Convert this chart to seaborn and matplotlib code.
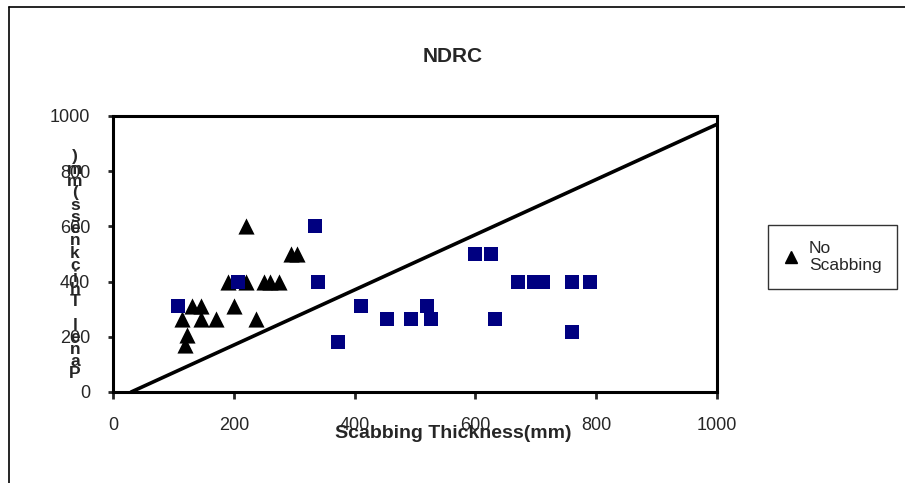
import matplotlib
matplotlib.use("Agg")
import matplotlib.pyplot as plt
import seaborn as sns
import pandas as pd
from matplotlib.lines import Line2D

# Data
no_scab_x = [220, 295, 305, 190, 220, 250, 260, 275, 130, 145, 200, 115, 145, 170, 237, 123, 120]
no_scab_y = [600, 500, 500, 400, 400, 400, 400, 400, 310, 310, 310, 265, 265, 265, 265, 208, 172]

scab_x = [335, 340, 108, 207, 372, 600, 625, 670, 697, 712, 760, 790, 410, 453, 493, 520, 527, 632, 760]
scab_y = [600, 400, 310, 400, 182, 500, 500, 400, 400, 400, 400, 400, 310, 265, 265, 310, 265, 265, 218]

line_x = [30, 1000]
line_y = [0, 970]

ticks = [0, 200, 400, 600, 800, 1000]

W, H = 905, 483

sns.set_style("white")
plt.rcParams['font.family'] = ['Liberation Sans', 'DejaVu Sans']

fig = plt.figure(figsize=(W / 100, H / 100), dpi=100)
ax = fig.add_axes([113 / W, 1 - 392 / H, (717 - 113) / W, (392 - 116) / H])

no_df = pd.DataFrame({"x": no_scab_x, "y": no_scab_y})
sc_df = pd.DataFrame({"x": scab_x, "y": scab_y})
ln_df = pd.DataFrame({"x": line_x, "y": line_y})

sns.lineplot(data=ln_df, x="x", y="y", ax=ax, color="black", linewidth=2.6, zorder=1)
sns.scatterplot(data=no_df, x="x", y="y", ax=ax, marker="^", color="black",
                s=135, linewidth=0, zorder=3)
sns.scatterplot(data=sc_df, x="x", y="y", ax=ax, marker="s", color="#000080",
                s=105, linewidth=0, zorder=3)

ax.set_xlim(0, 1000)
ax.set_ylim(0, 1000)
ax.set_xticks(ticks)
ax.set_yticks(ticks)
ax.set_xlabel("")
ax.set_ylabel("")
ax.grid(False)
for sp in ax.spines.values():
    sp.set_color("black")
    sp.set_linewidth(2.2)
ax.tick_params(axis="x", direction="out", length=5, width=2, pad=13, labelsize=13, bottom=True)
ax.tick_params(axis="y", direction="out", length=3.5, width=2, pad=13, labelsize=13, left=True)

# title, x label and the stacked y label
fig.text(453 / W, 1 - 57 / H, "NDRC", ha="center", va="center", fontsize=15, fontweight="bold")
fig.text(453 / W, 1 - 434 / H, "Scabbing Thickness(mm)", ha="center", va="center",
         fontsize=14, fontweight="bold")
stacked = "\n".join(reversed("Panel Thickness(mm)"))
fig.text(75 / W, 1 - 265 / H, stacked, ha="center", va="center", fontsize=12.5,
         fontweight="bold", linespacing=0.75, multialignment="center")

# legend (only the triangle entry is visible)
handle = Line2D([], [], marker="^", color="black", linestyle="none", markersize=8)
leg = fig.legend(handles=[handle], labels=["No\nScabbing"], loc="upper left",
                 bbox_to_anchor=(768 / W, 1 - 225 / H), bbox_transform=fig.transFigure,
                 frameon=True, fancybox=False, edgecolor="black", fontsize=12.5,
                 handlelength=0.9, handletextpad=0.55, borderpad=0.9, borderaxespad=0)
leg.get_frame().set_linewidth(1.0)

# outer chart border (only top and left fall inside the image)
fig.add_artist(Line2D([9 / W, 9 / W], [0, 1 - 7 / H], transform=fig.transFigure,
                      color="black", linewidth=1.2))
fig.add_artist(Line2D([9 / W, 1], [1 - 7 / H, 1 - 7 / H], transform=fig.transFigure,
                      color="black", linewidth=1.2))

fig.savefig("out.png", dpi=100)
